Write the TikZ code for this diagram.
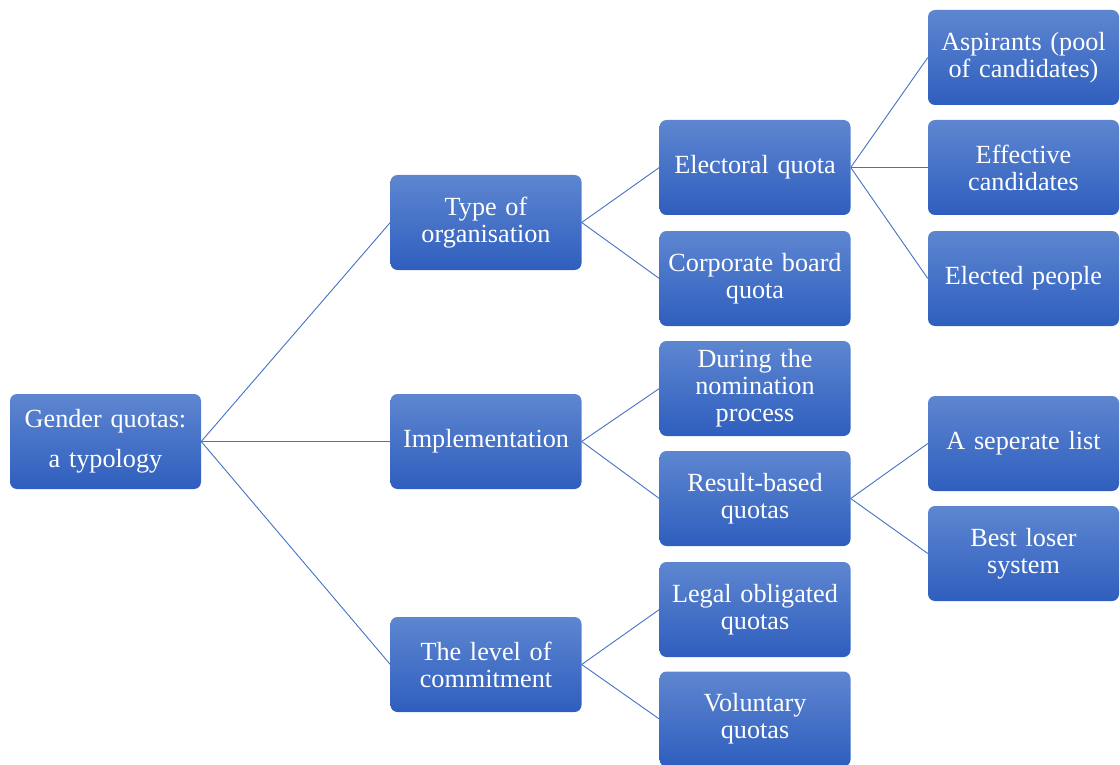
\documentclass[tikz,border=0pt]{standalone}
\usepackage{fontspec}
\setmainfont{Liberation Serif}
\definecolor{boxtop}{RGB}{94,134,208}
\definecolor{boxbot}{RGB}{46,94,190}
\definecolor{linec}{RGB}{68,114,196}
\tikzset{
  qbox/.style={rounded corners=7pt, top color=boxtop, bottom color=boxbot, draw=none,
    minimum width=191pt, minimum height=95pt, inner sep=0pt, text width=189pt,
    align=center, text=white, font=\fontsize{26.2}{27}\selectfont},
  conn/.style={draw=linec, line width=0.9pt}
}
\begin{document}
\begin{tikzpicture}[x=1pt,y=-1pt]
\useasboundingbox (0,0) rectangle (1120,765);
\node[qbox] (root) at (105.5,441.5) {Gender quotas:\\[13pt]a typology};
\node[qbox] (type) at (486,222.5) {Type of\\organisation};
\node[qbox] (impl) at (486,441.5) {Implementation};
\node[qbox] (level) at (486,664.5) {The level of\\commitment};
\node[qbox] (elec) at (755,167.5) {Electoral quota};
\node[qbox] (corp) at (755,278.5) {Corporate board\\quota};
\node[qbox] (nom) at (755,388.5) {During the\\nomination\\process};
\node[qbox] (res) at (755,498.5) {Result-based\\quotas};
\node[qbox] (legal) at (755,609.5) {Legal obligated\\quotas};
\node[qbox] (vol) at (755,719) {Voluntary\\quotas};
\node[qbox] (asp) at (1023.5,57.5) {Aspirants (pool\\of candidates)};
\node[qbox] (eff) at (1023.5,167.5) {Effective\\candidates};
\node[qbox] (eld) at (1023.5,278.5) {Elected people};
\node[qbox] (sep) at (1023.5,443.5) {A seperate list};
\node[qbox] (best) at (1023.5,553.5) {Best loser\\system};
\foreach \a/\b in {root/type,root/impl,root/level,type/elec,type/corp,impl/nom,impl/res,level/legal,level/vol,elec/asp,elec/eff,elec/eld,res/sep,res/best}
  \draw[conn] (\a.east) -- (\b.west);
\end{tikzpicture}
\end{document}
